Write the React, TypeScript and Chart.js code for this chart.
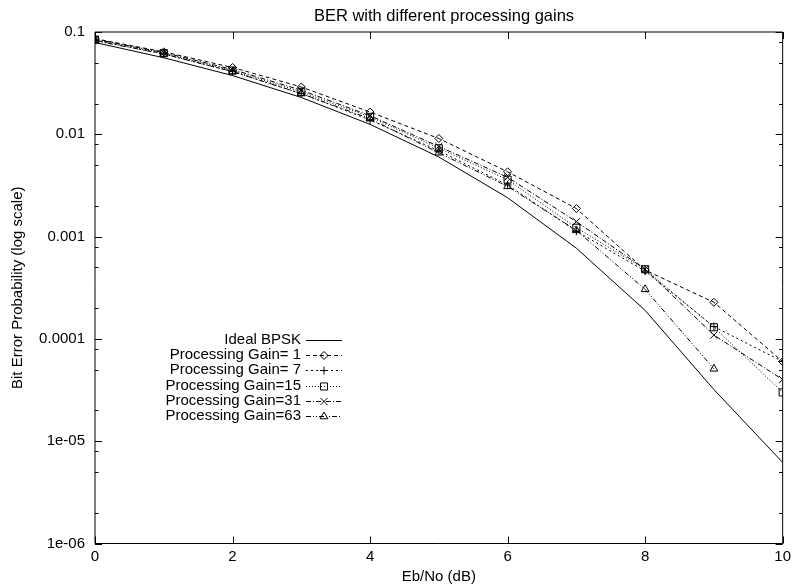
import React, { useEffect, useRef } from 'react';
import { Chart, registerables } from 'chart.js';

Chart.register(...registerables);

const chartTitle = 'BER with different processing gains';
const xTitle = 'Eb/No (dB)';
const yTitle = 'Bit Error Probability (log scale)';

const ebno = [0, 1, 2, 3, 4, 5, 6, 7, 8, 9, 10];
const idealBPSK = [0.079, 0.056, 0.0375, 0.0229, 0.0125, 0.006, 0.0024, 0.00077, 0.00019, 0.000032, 0.0000062];
const pg1 = [0.086, 0.064, 0.045, 0.029, 0.0165, 0.0091, 0.0043, 0.00188, 0.00047, 0.000228, 0.00006];
const pg7 = [0.083, 0.061, 0.041, 0.025, 0.0138, 0.0069, 0.0032, 0.00113, 0.00046, 0.000132, 0.00006];
const pg15 = [0.084, 0.062, 0.042, 0.026, 0.0148, 0.0073, 0.0036, 0.00122, 0.00048, 0.00013, 0.00003];
const pg31 = [0.085, 0.063, 0.043, 0.027, 0.0152, 0.0076, 0.0038, 0.0014, 0.00048, 0.000109, 0.00004];
const pg63 = [0.082, 0.061, 0.041, 0.025, 0.0142, 0.0066, 0.0031, 0.00115, 0.000305, 0.000051, null];

const seriesLabels = ['Ideal BPSK', 'Processing Gain= 1', 'Processing Gain= 7', 'Processing Gain=15', 'Processing Gain=31', 'Processing Gain=63'];

const xTickValues = [0, 2, 4, 6, 8, 10];
const yTickValues = [0.1, 0.01, 0.001, 0.0001, 0.00001, 0.000001];
const yTickLabels = ['0.1', '0.01', '0.001', '0.0001', '1e-05', '1e-06'];
const yMinorMultipliers = [2, 5, 8];

const FONT = '"Liberation Sans", Arial, Helvetica, sans-serif';
const FS = 15;
const TITLE_FS = 16.5;

const styles: any[] = [
  { dash: [], point: false, radius: 0 },
  { dash: [4, 3], point: 'rectRot', radius: 4 },
  { dash: [2, 3], point: 'cross', radius: 4 },
  { dash: [1, 2], point: 'rect', radius: 5 },
  { dash: [5, 2, 1, 2], point: 'crossRot', radius: 5 },
  { dash: [5, 2, 1, 2, 1, 2], point: 'triangle', radius: 4.5 },
];

function drawMarker(ctx: CanvasRenderingContext2D, style: string, r: number, x: number, y: number) {
  ctx.beginPath();
  if (style === 'rectRot') {
    ctx.moveTo(x, y - r); ctx.lineTo(x + r, y); ctx.lineTo(x, y + r); ctx.lineTo(x - r, y); ctx.closePath();
  } else if (style === 'rect') {
    const s = r * Math.SQRT1_2;
    ctx.rect(x - s, y - s, 2 * s, 2 * s);
  } else if (style === 'cross') {
    ctx.moveTo(x, y - r); ctx.lineTo(x, y + r); ctx.moveTo(x - r, y); ctx.lineTo(x + r, y);
  } else if (style === 'crossRot') {
    const s = r * Math.SQRT1_2;
    ctx.moveTo(x - s, y - s); ctx.lineTo(x + s, y + s); ctx.moveTo(x + s, y - s); ctx.lineTo(x - s, y + s);
  } else if (style === 'triangle') {
    const h = r * 1.5;
    const w = r * Math.sqrt(3);
    ctx.moveTo(x, y - r); ctx.lineTo(x + w / 2, y - r + h); ctx.lineTo(x - w / 2, y - r + h); ctx.closePath();
  }
  ctx.stroke();
}

const frameAndLegend = {
  id: 'frameAndLegend',
  afterDatasetsDraw(chart: any) {
    const ctx = chart.ctx;
    const a = chart.chartArea;
    const xs = chart.scales.x;
    const ys = chart.scales.y;
    ctx.save();
    ctx.strokeStyle = '#000';
    ctx.lineWidth = 1;
    ctx.setLineDash([]);
    ctx.beginPath();
    ctx.rect(a.left, a.top, a.right - a.left, a.bottom - a.top);
    ctx.stroke();
    const major = 7;
    const minor = 3.5;
    ctx.beginPath();
    xTickValues.forEach((v) => {
      const px = Math.round(xs.getPixelForValue(v)) + 0.5;
      ctx.moveTo(px, a.bottom);
      ctx.lineTo(px, a.bottom - major);
      ctx.moveTo(px, a.top);
      ctx.lineTo(px, a.top + major);
    });
    yTickValues.forEach((v) => {
      const py = Math.round(ys.getPixelForValue(v)) + 0.5;
      ctx.moveTo(a.left, py);
      ctx.lineTo(a.left + major, py);
      ctx.moveTo(a.right, py);
      ctx.lineTo(a.right - major, py);
      if (v < 0.1) {
        yMinorMultipliers.forEach((m) => {
          const pm = Math.round(ys.getPixelForValue(v * m)) + 0.5;
          ctx.moveTo(a.left, pm);
          ctx.lineTo(a.left + minor, pm);
          ctx.moveTo(a.right, pm);
          ctx.lineTo(a.right - minor, pm);
        });
      }
    });
    ctx.stroke();

    // title
    ctx.fillStyle = '#000';
    ctx.font = `${TITLE_FS}px ${FONT}`;
    ctx.textAlign = 'center';
    ctx.textBaseline = 'middle';
    ctx.fillText(chartTitle, 444, 16);

    // legend
    ctx.font = `${FS}px ${FONT}`;
    const textRight = 301;
    const sx0 = 306;
    const sx1 = 342;
    const row0 = 340;
    const rowH = 15.2;
    chart.data.datasets.forEach((ds: any, i: number) => {
      const y = Math.round(row0 + i * rowH);
      ctx.textAlign = 'right';
      ctx.fillText(ds.label, textRight, y);
      ctx.beginPath();
      ctx.setLineDash(styles[i].dash);
      ctx.moveTo(sx0, y + 0.5);
      ctx.lineTo(sx1, y + 0.5);
      ctx.stroke();
      ctx.setLineDash([]);
      if (styles[i].point) {
        drawMarker(ctx, styles[i].point, styles[i].radius, (sx0 + sx1) / 2, y + 0.5);
      }
    });
    ctx.restore();
  },
};

export default function App() {
  const ref = useRef<HTMLCanvasElement | null>(null);
  useEffect(() => {
    if (!ref.current) return;
    const series = [idealBPSK, pg1, pg7, pg15, pg31, pg63];
    const chart = new Chart(ref.current, {
      type: 'line',
      data: {
        labels: ebno,
        datasets: series.map((s, i) => ({
          label: seriesLabels[i],
          data: s.map((v, j) => ({ x: ebno[j], y: v })),
          borderColor: '#000',
          borderWidth: 1,
          borderDash: styles[i].dash,
          pointStyle: styles[i].point,
          pointRadius: styles[i].radius,
          pointBorderWidth: 1,
          pointBorderColor: '#000',
          pointBackgroundColor: 'rgba(0,0,0,0)',
          fill: false,
          tension: 0,
          spanGaps: false,
        })),
      },
      options: {
        animation: false,
        responsive: true,
        maintainAspectRatio: false,
        layout: { padding: { top: 32, right: 12, left: 0, bottom: 0 } },
        plugins: { legend: { display: false }, tooltip: { enabled: false }, title: { display: false } },
        scales: {
          x: {
            type: 'linear',
            min: 0,
            max: 10,
            afterBuildTicks: (s: any) => { s.ticks = xTickValues.map((v) => ({ value: v })); },
            afterFit: (s: any) => { s.height = 44.5; },
            grid: { display: false, drawTicks: false },
            border: { display: false },
            ticks: { color: '#000', font: { family: FONT, size: FS }, padding: 4, maxRotation: 0 },
            title: { display: true, text: xTitle, color: '#000', font: { family: FONT, size: FS }, padding: { top: 0, bottom: 2 } },
          },
          y: {
            type: 'logarithmic',
            min: 0.000001,
            max: 0.1,
            afterBuildTicks: (s: any) => { s.ticks = yTickValues.map((v) => ({ value: v })); },
            afterFit: (s: any) => { s.width = 95; },
            grid: { display: false, drawTicks: false },
            border: { display: false },
            ticks: {
              color: '#000',
              font: { family: FONT, size: FS },
              padding: 10,
              callback: (v: any) => {
                const i = yTickValues.findIndex((t) => Math.abs(t - v) / t < 1e-6);
                return i >= 0 ? yTickLabels[i] : '';
              },
            },
            title: { display: true, text: yTitle, color: '#000', font: { family: FONT, size: FS }, padding: { top: 9, bottom: 0 } },
          },
        },
      },
      plugins: [frameAndLegend],
    } as any);
    return () => chart.destroy();
  }, []);
  return (
    <div style={{ position: 'fixed', left: 0, top: 0, width: 795, height: 588, background: '#fff' }}>
      <canvas ref={ref} />
    </div>
  );
}
